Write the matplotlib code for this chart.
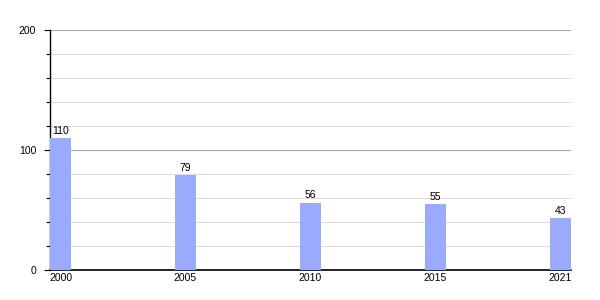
import matplotlib
matplotlib.use('Agg')
import matplotlib.pyplot as plt
import numpy as np
from matplotlib.ticker import MultipleLocator

plt.rcParams['font.family'] = ['Liberation Sans', 'DejaVu Sans']

# Data
years = ['2000', '2005', '2010', '2015', '2021']
values = [110, 79, 56, 55, 43]

bar_color = '#99aaff'
bar_width = 0.168

fig = plt.figure(figsize=(6, 3), dpi=100)
ax = fig.add_axes([50 / 600, 0.1, 521 / 600, 0.8])

x = np.arange(len(years))
ax.bar(x, values, width=bar_width, align='edge', color=bar_color, zorder=3)

for xi, v in zip(x, values):
    ax.text(xi + bar_width / 2, v + 2, str(v), ha='center', va='bottom', fontsize=7.5, zorder=4)

ax.set_xlim(0, len(years) - 1 + bar_width)
ax.set_ylim(0, 200)
ax.set_xticks(x + bar_width / 2)
ax.set_xticklabels(years, fontsize=7.5)
ax.tick_params(axis='x', length=0, pad=2)

ax.yaxis.set_major_locator(MultipleLocator(100))
ax.yaxis.set_minor_locator(MultipleLocator(20))
ax.tick_params(axis='y', which='major', length=4, width=0.8, labelsize=7.5, pad=6)
ax.tick_params(axis='y', which='minor', length=3, width=0.8)

ax.grid(axis='y', which='minor', color='#dddddd', linewidth=0.8, zorder=0)
ax.grid(axis='y', which='major', color='#aaaaaa', linewidth=0.8, zorder=1)

for side in ['top', 'right']:
    ax.spines[side].set_visible(False)
ax.spines['left'].set_linewidth(1.0)
ax.spines['bottom'].set_linewidth(1.2)

fig.savefig('out.png', dpi=100)
